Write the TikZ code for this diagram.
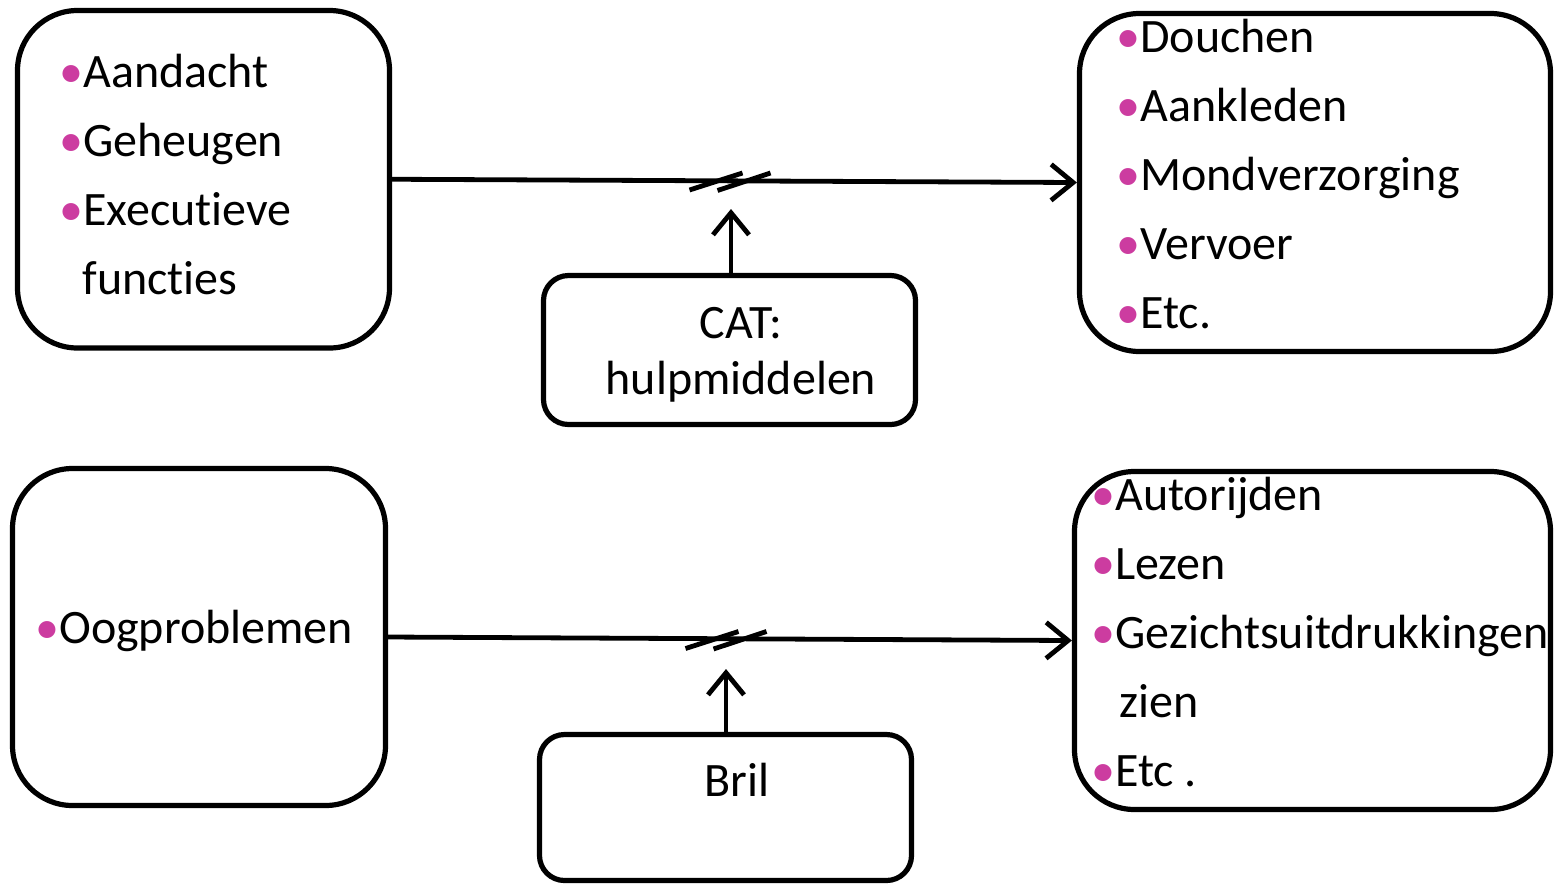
\documentclass[tikz,border=0pt]{standalone}
\usepackage{fontspec}
\setmainfont{Carlito}[Ligatures=NoCommon,Contextuals=NoAlternate,RawFeature={-liga;-calt;-dlig}]
\usetikzlibrary{arrows.meta,calc}
\definecolor{bulcol}{RGB}{204,60,160}
\newcommand{\bul}{{\color{bulcol}\textbullet}}
\begin{document}
\begin{tikzpicture}[x=0.5pt,y=-0.5pt,
  box/.style={draw,line width=2.6pt,rounded corners=30pt,inner sep=0pt},
  smallbox/.style={draw,line width=2.6pt,rounded corners=12.5pt,inner sep=0pt},
  txt/.style={anchor=base west,inner sep=0pt,font=\fontsize{24}{29}\selectfont},
  ctxt/.style={anchor=base,inner sep=0pt,font=\fontsize{24}{29}\selectfont},
  link/.style={line width=2.4pt,-{Straight Barb[length=11pt,width=18pt]}},
  brk/.style={line width=2.4pt}]
\useasboundingbox (0,0) rectangle (1556,885);
% boxes
\node[box,minimum width=186pt,minimum height=168.75pt] (b1) at (203.5,179.25) {};
\node[box,minimum width=235.5pt,minimum height=169pt] (b2) at (1315,182.5) {};
\node[smallbox,minimum width=186pt,minimum height=74.5pt] (cat) at (729.5,350) {};
\node[box,minimum width=186.5pt,minimum height=168.5pt] (b3) at (199,637) {};
\node[box,minimum width=238pt,minimum height=169pt] (b4) at (1312.5,640.5) {};
\node[smallbox,minimum width=186pt,minimum height=73pt] (bril) at (725.5,807.5) {};
% texts
\node[txt] (t11) at (59,87) {\bul Aandacht};
\node[txt] (t12) at (59,156) {\bul Geheugen};
\node[txt] (t13) at (59,225) {\bul Executieve};
\node[txt] (t14) at (82,294) {functies};
\node[txt] (t21) at (1116,52) {\bul Douchen};
\node[txt] (t22) at (1116,121) {\bul Aankleden};
\node[txt] (t23) at (1116,190) {\bul Mondverzorging};
\node[txt] (t24) at (1116,259) {\bul Vervoer};
\node[txt] (t25) at (1116,328) {\bul Etc.};
\node[ctxt] (c1) at (741,338) {CAT:};
\node[ctxt] (c2) at (741,394) {hulpmiddelen};
\node[txt] (t31) at (35,643) {\bul Oogproblemen};
\node[txt] (t41) at (1091,510) {\bul Autorijden};
\node[txt] (t42) at (1091,579) {\bul Lezen};
\node[txt] (t43) at (1091,648) {\bul Gezichtsuitdrukkingen};
\node[txt] (t44) at (1119,717) {zien};
\node[txt] (t45) at (1091,786) {\bul Etc .};
\node[ctxt] (br) at (737,796) {Bril};
% connectors
\draw[link] (b1.east) -- (b2.west);
\draw[link] (b3.east) -- (b4.west);
\coordinate (m1) at (730,181.5);
\coordinate (m2) at (726,640);
\foreach \m in {m1,m2}{
  \draw[brk] ($(\m)+(-40.5,8.5)$) -- ($(\m)+(12.5,-8.5)$);
  \draw[brk] ($(\m)+(-12.5,9)$) -- ($(\m)+(40.5,-8.5)$);
}
\coordinate (a1) at (731,209);
\coordinate (a2) at (726,669);
\draw[link] (cat.north -| a1) -- (a1);
\draw[link] (bril.north -| a2) -- (a2);
\end{tikzpicture}
\end{document}
